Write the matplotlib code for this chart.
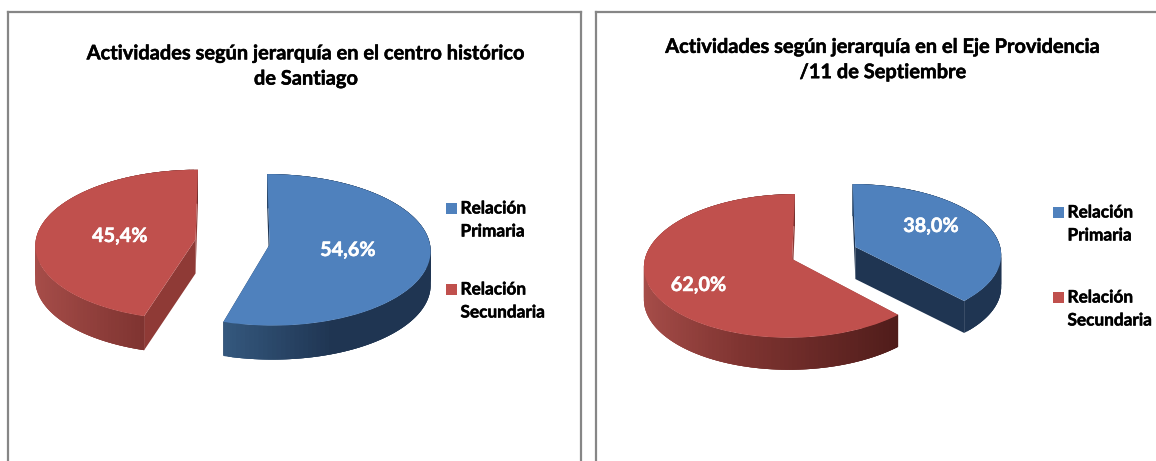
import numpy as np
import matplotlib
matplotlib.use('Agg')
import matplotlib.pyplot as plt
import matplotlib.colors as mcolors
import matplotlib.patheffects as pe
import matplotlib.transforms as mtransforms
from matplotlib.patches import Polygon, Rectangle

W, H = 1156, 461

categories = ['Relación\nPrimaria', 'Relación\nSecundaria']
centro = [54.6, 45.4]
eje = [38.0, 62.0]
title_centro = 'Actividades según jerarquía en el centro histórico\nde Santiago'
title_eje = 'Actividades según jerarquía en el Eje Providencia\n/11 de Septiembre'

colors = ['#4f81bd', '#c0504d']
face_colors = ['#1f3552', '#8f3a36']
# wall colour against the cosine of the angle, left to right
wall_stops = [
    ([-0.30, 0.35, 1.0], ['#35597f', '#1f3552', '#1f3552']),
    ([-1.0, -0.29, 0.7], ['#a84e4a', '#7f3431', '#4f1c1a']),
]

plt.rcParams['font.family'] = ['Lato', 'DejaVu Sans']


class Persp(mtransforms.Transform):
    input_dims = 2
    output_dims = 2

    def __init__(self, k):
        super().__init__()
        self.k = k

    def transform_non_affine(self, values):
        values = np.asarray(values, dtype=float)
        return values / (1 + self.k * values[:, 1])[:, None]


def wall_color(c, stops):
    rgb = np.array([mcolors.to_rgb(s) for s in stops[1]])
    return [np.interp(c, stops[0], rgb[:, i]) for i in range(3)]


def heavy(color):
    # Lato bold is a bit thinner than the original font
    return [pe.withStroke(linewidth=0.35, foreground=color)]


def draw_pie(fig, frame, cx, cy, rx, ry, k, depth, values, explode, title, title_xy,
             pct_xy, legend_x, legend_y):
    x0, x1 = frame
    ax = fig.add_axes([x0 / W, 0, (x1 - x0) / W, (H - 12) / H])
    wedges, texts, pcts = ax.pie(values, explode=[explode, explode], colors=colors,
                                 startangle=90, counterclock=False,
                                 autopct=lambda p: f'{p:.1f}%'.replace('.', ','),
                                 textprops={'color': 'white', 'fontweight': 'bold', 'fontsize': 14.3})
    ax.set_aspect('auto')
    ax.set_xlim((x0 - cx) / rx, (x1 - cx) / rx)
    ax.set_ylim((cy - H) / ry, (cy - 12) / ry)
    ax.set_frame_on(True)
    for side in ax.spines.values():
        side.set_color('#868686')
        side.set_linewidth(1.6)
    ax.spines['bottom'].set_visible(False)
    if x1 > W:
        ax.spines['right'].set_visible(False)

    persp = Persp(k)
    d = depth / ry
    for i, wedge in enumerate(wedges):
        wedge.set_transform(persp + ax.transData)
        wedge.set_zorder(3)
        wedge.set_linewidth(0)
        ox, oy = wedge.center
        a1, a2 = wedge.theta1, wedge.theta2
        # straight cut faces
        for a in (a1, a2):
            p = persp.transform(np.array([[ox, oy],
                                          [ox + np.cos(np.radians(a)), oy + np.sin(np.radians(a))]]))
            pts = [p[0], p[1], p[1] - [0, d], p[0] - [0, d]]
            ax.add_patch(Polygon(pts, closed=True, fc=face_colors[i], ec='none', zorder=1))
        # outer wall, strips overlap the next one so no seams show
        for a in np.arange(a1, a2, 1.5):
            t = np.radians(np.linspace(a, min(a + 4.5, a2), 4))
            p = persp.transform(np.column_stack([ox + np.cos(t), oy + np.sin(t)]))
            pts = np.vstack([p, p[::-1] - [0, d]])
            c = wall_color(np.cos(np.radians(a + 0.75)), wall_stops[i])
            ax.add_patch(Polygon(pts, closed=True, fc=c, ec='none', zorder=2))

    for t, (px, py) in zip(pcts, pct_xy):
        t.set_position(((px - cx) / rx, (cy - py) / ry))
        t.set_zorder(4)
        t.set_va('center')
        t.set_ha('center')
        t.set_path_effects(heavy('white'))

    fig.text(title_xy[0] / W, 1 - title_xy[1] / H, title, ha='center', va='center',
             fontsize=14.4, fontweight='bold', color='black', linespacing=1.33,
             path_effects=heavy('black'))

    for cat, col, ly in zip(categories, colors, legend_y):
        fig.add_artist(Rectangle((legend_x / W, 1 - (ly + 5.5) / H), 11 / W, 11 / H,
                                 transform=fig.transFigure, fc=col, ec='none'))
        first, second = cat.split('\n')
        fig.text((legend_x + 14.5) / W, 1 - ly / H, first, va='center', ha='left',
                 fontsize=12.4, fontweight='bold', color='black', path_effects=heavy('black'))
        fig.text((legend_x + 14.5) / W, 1 - (ly + 23) / H, second, va='center', ha='left',
                 fontsize=12.4, fontweight='bold', color='black', path_effects=heavy('black'))


fig = plt.figure(figsize=(W / 100, H / 100), dpi=100, facecolor='white')

draw_pie(fig, (8, 581), 232.5, 242, 160, 75, 0.07, 34, centro, 0.234, title_centro, (306, 66),
         [(348, 250), (120, 236)], 446, [208.5, 289.5])
draw_pie(fig, (596, 1170), 824, 253, 146, 70, 0.095, 32, eje, 0.233, title_eje, (883, 59.5),
         [(931, 226), (698.5, 285)], 1053, [212.5, 297.5])

fig.savefig('out.png', dpi=100)
